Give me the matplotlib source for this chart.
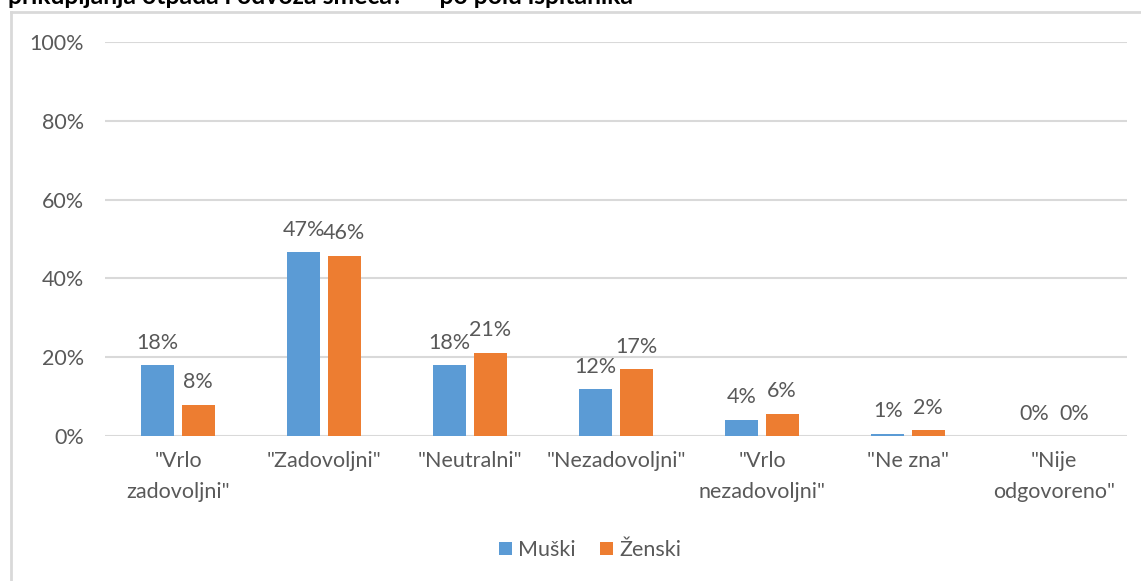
import numpy as np
import matplotlib.pyplot as plt
from matplotlib.lines import Line2D
from matplotlib.ticker import PercentFormatter

# ---------------- DATA ----------------
categories = ['"Vrlo\nzadovoljni"', '"Zadovoljni"', '"Neutralni"', '"Nezadovoljni"',
              '"Vrlo\nnezadovoljni"', '"Ne zna"', '"Nije\nodgovoreno"']
muski = [18.0, 46.6, 18.0, 11.9, 4.1, 0.6, 0.0]
zenski = [7.9, 45.8, 21.1, 17.0, 5.7, 1.5, 0.0]
series_names = ["Muški", "Ženski"]
title = 'prikupljanja otpada i odvoza smeća?" – po polu ispitanika'
# --------------------------------------

BLUE = "#5B9BD5"
ORANGE = "#ED7D31"
GRID = "#d9d9d9"
TXT = "#595959"
FS = 15.5

plt.rcParams['font.family'] = ['Lato', 'DejaVu Sans']

fig = plt.figure(figsize=(11.41, 5.81), dpi=100)
ax = fig.add_axes([105 / 1141, 1 - 436 / 581, (1127 - 105) / 1141, (436 - 42) / 581])

x = np.arange(len(categories))
w = 0.225
off = 0.138
b1 = ax.bar(x - off, muski, w, color=BLUE, label=series_names[0], zorder=3)
b2 = ax.bar(x + off, zenski, w, color=ORANGE, label=series_names[1], zorder=3)

for bars, vals in [(b1, muski), (b2, zenski)]:
    for bar, v in zip(bars, vals):
        ax.annotate(f"{v:.0f}%", (bar.get_x() + bar.get_width() / 2, v),
                    xytext=(0, 9), textcoords="offset points",
                    ha="center", va="bottom", fontsize=FS, color=TXT)

ax.set_xlim(-0.5, len(categories) - 0.5)
ax.set_ylim(0, 100)
ax.set_yticks(range(0, 101, 20))
ax.yaxis.set_major_formatter(PercentFormatter(decimals=0))
ax.set_xticks(x)
ax.set_xticklabels(categories, linespacing=1.68)
ax.tick_params(axis="both", length=0, labelsize=FS, labelcolor=TXT)
ax.tick_params(axis="y", pad=15)
ax.tick_params(axis="x", pad=11)
ax.grid(axis="y", color=GRID, linewidth=1.5, zorder=0)
for s in ax.spines.values():
    s.set_visible(False)

fig.legend(handles=[b1, b2], labels=series_names, loc="center", bbox_to_anchor=(590 / 1141, 1 - 550 / 581),
           ncol=2, frameon=False, fontsize=FS, labelcolor=TXT, handlelength=0.6, handleheight=0.6,
           handletextpad=0.3, columnspacing=1.1)

# chart border (top and left edges visible)
fig.add_artist(Line2D([11 / 1141, 11 / 1141], [0, 1 - 12 / 581], color=GRID, lw=2, transform=fig.transFigure))
fig.add_artist(Line2D([11 / 1141, 1], [1 - 12 / 581, 1 - 12 / 581], color=GRID, lw=2, transform=fig.transFigure))

# cut-off title at the top
fig.text(8 / 1141, 1 - 3.5 / 581, title, ha="left", va="baseline", fontsize=17.8, fontweight="bold", color="black")

fig.savefig("out.png", dpi=100)
